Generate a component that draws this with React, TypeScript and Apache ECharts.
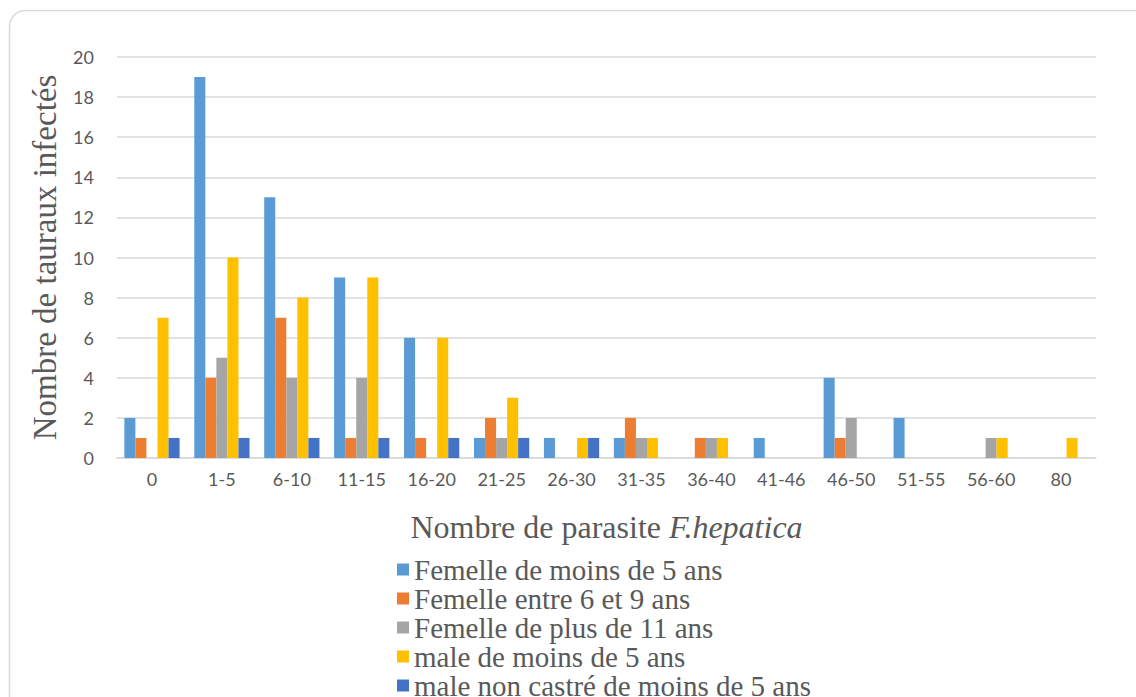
import React, { useEffect, useRef } from "react";
import * as echarts from "echarts";

const categories = ["0", "1-5", "6-10", "11-15", "16-20", "21-25", "26-30", "31-35", "36-40", "41-46", "46-50", "51-55", "56-60", "80"];
const femMoins5 = [2, 19, 13, 9, 6, 1, 1, 1, 0, 1, 4, 2, 0, 0];
const fem6a9 = [1, 4, 7, 1, 1, 2, 0, 2, 1, 0, 1, 0, 0, 0];
const femPlus11 = [0, 5, 4, 4, 0, 1, 0, 1, 1, 0, 2, 0, 1, 0];
const maleMoins5 = [7, 10, 8, 9, 6, 3, 1, 1, 1, 0, 0, 0, 1, 1];
const maleNonCastre = [1, 1, 1, 1, 1, 1, 1, 0, 0, 0, 0, 0, 0, 0];
const yTicks = { min: 0, max: 20, interval: 2 };

const seriesDefs = [
  { name: "Femelle de moins de 5 ans", data: femMoins5, color: "#5B9BD5" },
  { name: "Femelle entre 6 et 9 ans", data: fem6a9, color: "#ED7D31" },
  { name: "Femelle de plus de 11 ans", data: femPlus11, color: "#A5A5A5" },
  { name: "male de moins de 5 ans", data: maleMoins5, color: "#FFC000" },
  { name: "male non castré de moins de 5 ans", data: maleNonCastre, color: "#4472C4" },
];

export default function App() {
  const ref = useRef<HTMLDivElement>(null);
  useEffect(() => {
    if (!ref.current) return;
    const chart = echarts.init(ref.current, undefined, { renderer: "svg" });
    const serif = "Liberation Serif";
    const sans = "Lato";
    chart.setOption({
      animation: false,
      backgroundColor: "#ffffff",
      graphic: [
        {
          type: "rect",
          shape: { x: 9.5, y: 10.5, width: 1160, height: 720, r: 16 },
          style: { fill: "none", stroke: "#d9d9d9", lineWidth: 1.5 },
          silent: true,
        },
      ],
      grid: { left: 117, right: 40, top: 57, bottom: 239, containLabel: false },
      legend: {
        type: "plain",
        orient: "vertical",
        left: 392,
        top: 550,
        height: 160,
        itemWidth: 12,
        itemHeight: 12,
        itemGap: 0,
        icon: "rect",
        formatter: "{t|{name}}",
        textStyle: {
          fontFamily: serif,
          fontSize: 29,
          color: "#595959",
          lineHeight: 28.4,
          rich: { t: { fontFamily: serif, fontSize: 29, color: "#595959", lineHeight: 28.4 } },
        },
        data: seriesDefs.map((s) => s.name),
      },
      xAxis: {
        type: "category",
        data: categories,
        axisLine: { lineStyle: { color: "#d9d9d9", width: 1.5 } },
        axisTick: { show: false },
        axisLabel: { fontFamily: sans, fontSize: 18, color: "#595959", margin: 12 },
        name: "{a|Nombre de parasite }{b|F.hepatica}",
        nameLocation: "middle",
        nameGap: 53,
        nameTextStyle: {
          rich: {
            a: { fontFamily: serif, fontSize: 32, color: "#595959" },
            b: { fontFamily: serif, fontSize: 32, color: "#595959", fontStyle: "italic" },
          },
        },
      },
      yAxis: {
        type: "value",
        min: yTicks.min,
        max: yTicks.max,
        interval: yTicks.interval,
        axisLine: { show: false },
        axisTick: { show: false },
        splitLine: { lineStyle: { color: "#d9d9d9", width: 1.5 } },
        axisLabel: { fontFamily: sans, fontSize: 18, color: "#595959", margin: 23 },
        name: "Nombre de tauraux infectés",
        nameLocation: "middle",
        nameGap: 56,
        nameTextStyle: { fontFamily: serif, fontSize: 33, color: "#595959" },
      },
      series: seriesDefs.map((s) => ({
        type: "bar",
        name: s.name,
        data: s.data,
        barGap: "0%",
        barCategoryGap: "21%",
        itemStyle: { color: s.color },
      })),
    });
    return () => chart.dispose();
  }, []);
  return <div ref={ref} style={{ position: "absolute", left: 0, top: 0, width: 1136, height: 697 }} />;
}
